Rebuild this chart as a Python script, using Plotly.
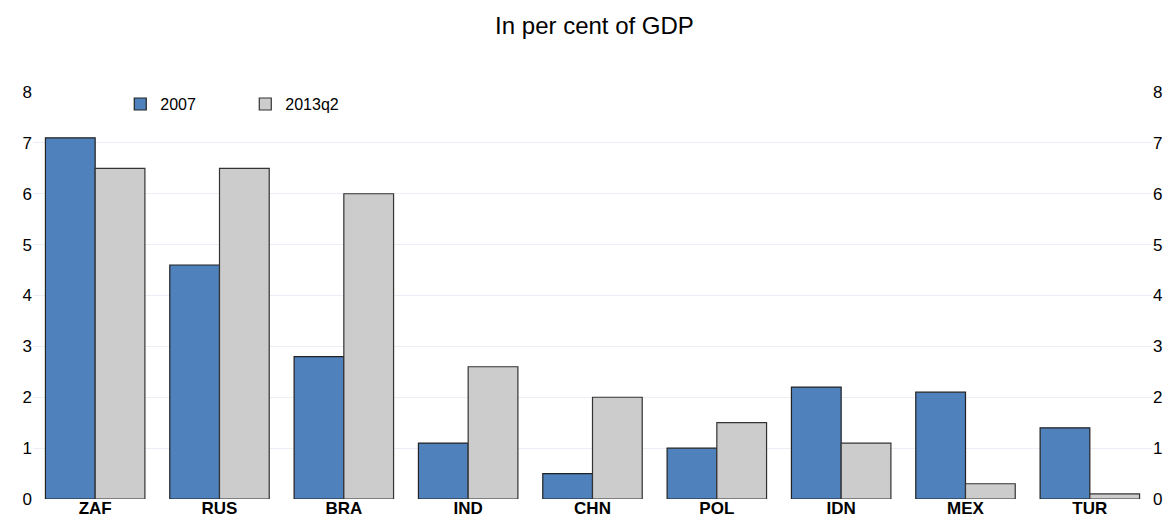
import plotly.graph_objects as go

categories = ["ZAF", "RUS", "BRA", "IND", "CHN", "POL", "IDN", "MEX", "TUR"]
values_2007 = [7.1, 4.6, 2.8, 1.1, 0.5, 1.0, 2.2, 2.1, 1.4]
values_2013q2 = [6.5, 6.5, 6.0, 2.6, 2.0, 1.5, 1.1, 0.3, 0.1]
y_ticks = [0, 1, 2, 3, 4, 5, 6, 7, 8]

font_family = "Liberation Sans, Arial, sans-serif"

fig = go.Figure()
fig.add_trace(go.Bar(
    x=categories, y=values_2007, name="2007",
    marker=dict(color="#4F81BD", line=dict(color="#222222", width=1.2)),
))
fig.add_trace(go.Bar(
    x=categories, y=values_2013q2, name="2013q2",
    marker=dict(color="#CCCCCC", line=dict(color="#333333", width=1.2)),
))
# invisible trace to activate the right-hand axis
fig.add_trace(go.Scatter(
    x=categories, y=values_2013q2, yaxis="y2", mode="markers",
    marker=dict(opacity=0), showlegend=False, hoverinfo="skip",
))

# page body has an 8px default margin, so the figure is sized to fit inside it
fig.update_layout(
    width=1166, height=510,
    paper_bgcolor="white", plot_bgcolor="white",
    font=dict(family=font_family, color="#000000"),
    title=dict(text="In per cent of GDP", x=0.503, xanchor="center", y=0.965, yanchor="middle",
               font=dict(size=24, family=font_family, color="#000000")),
    margin=dict(l=25, r=22, t=84, b=19),
    barmode="group", bargap=0.2, bargroupgap=0,
    showlegend=True,
    legend=dict(orientation="h", x=0.078, xanchor="left", y=1.012, yanchor="top",
                font=dict(size=16, family=font_family), bgcolor="rgba(0,0,0,0)",
                entrywidth=80, entrywidthmode="pixels", traceorder="normal"),
    xaxis=dict(type="category", showgrid=False, showline=False, ticks="",
               tickfont=dict(size=17, family=font_family, color="#000000", weight="bold"),
               ticklabelstandoff=-3, automargin=False),
    yaxis=dict(range=[0, 8], tickvals=y_ticks, showgrid=True, gridcolor="#ECEEF6", gridwidth=1,
               zeroline=False, showline=False, ticks="", tickfont=dict(size=17),
               automargin=False),
    yaxis2=dict(range=[0, 8], tickvals=y_ticks, overlaying="y", side="right", showgrid=False,
                zeroline=False, showline=False, ticks="", tickfont=dict(size=17),
                automargin=False),
)

fig.write_html("out.html")
